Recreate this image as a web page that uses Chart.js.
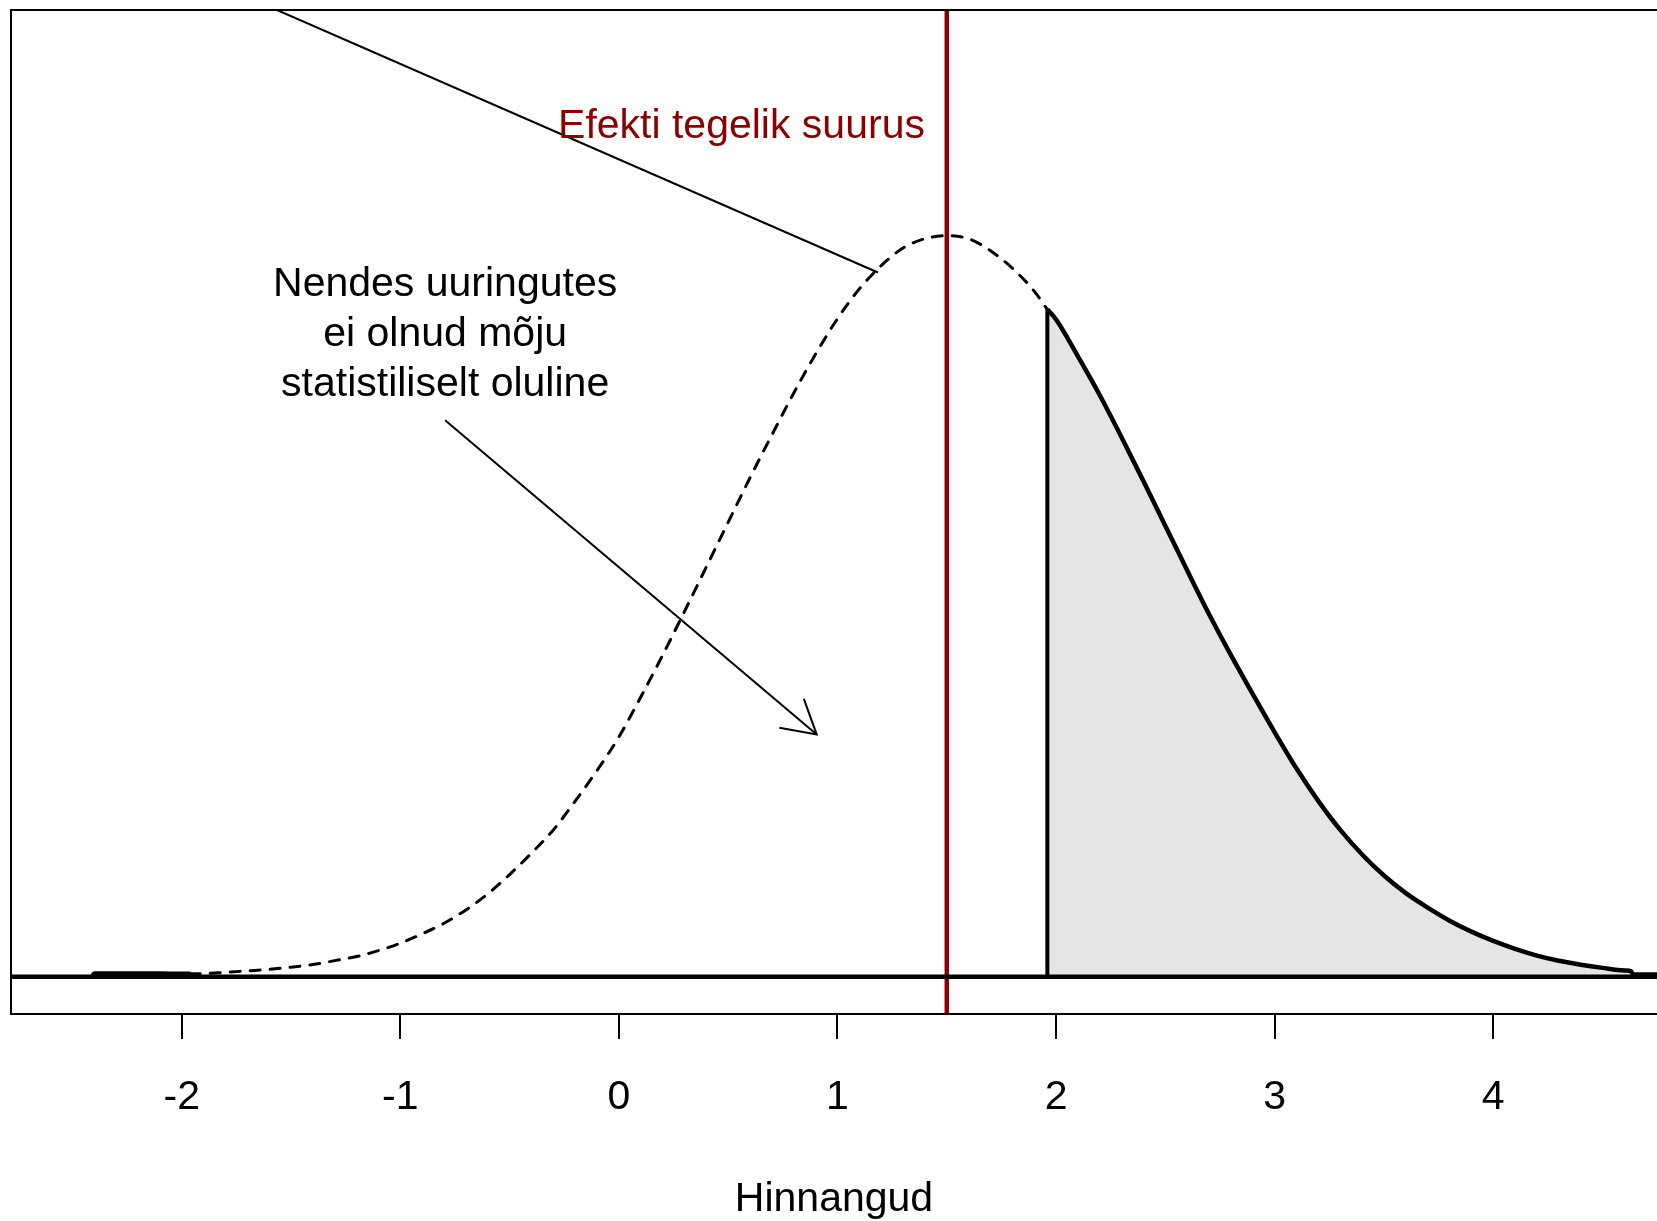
<!DOCTYPE html>
<html>
<head>
<meta charset="utf-8">
<script src="https://cdn.jsdelivr.net/npm/chart.js@4.4.1/dist/chart.umd.min.js"></script>
<style>
  body { margin: 0; background: #fff; }
  #wrap { width: 1657px; height: 1221px; }
</style>
</head>
<body>
<div id="wrap"><canvas id="grafik" width="1657" height="1221"></canvas></div>
<script>
// simuleeritud hinnangute tihedus (loetud pildilt)
const estX = [-2.41, -2.4, -2.3, -2.2, -2.1, -2.0, -1.96, -1.9, -1.8, -1.7, -1.6, -1.5, -1.4, -1.3, -1.2, -1.1,
  -1.0, -0.9, -0.8, -0.7, -0.6, -0.5, -0.4, -0.3, -0.2, -0.1, 0.0, 0.1, 0.2, 0.3, 0.4, 0.5, 0.6, 0.7, 0.8, 0.9,
  1.0, 1.1, 1.2, 1.3, 1.4, 1.5, 1.6, 1.7, 1.8, 1.9, 1.96, 2.0, 2.1, 2.2, 2.3, 2.4, 2.5, 2.6, 2.7, 2.8, 2.9,
  3.0, 3.1, 3.2, 3.3, 3.4, 3.5, 3.6, 3.7, 3.8, 3.9, 4.0, 4.1, 4.2, 4.3, 4.4, 4.5, 4.6, 4.63, 4.64, 4.75];
const density = [0, 0.0018, 0.0018, 0.0018, 0.0018, 0.0016, 0.0016, 0.0017, 0.0024, 0.0032, 0.0040, 0.0052, 0.0066, 0.0087, 0.0109, 0.0141,
  0.0181, 0.0231, 0.0288, 0.0360, 0.0446, 0.0550, 0.0665, 0.0790, 0.0945, 0.1110, 0.1290, 0.1505, 0.1730, 0.1965, 0.2205, 0.2445, 0.2685, 0.2915, 0.3140, 0.3350,
  0.3540, 0.3700, 0.3825, 0.3920, 0.3970, 0.3986, 0.3970, 0.3905, 0.3811, 0.3688, 0.3590, 0.3535, 0.3337, 0.3128, 0.2901, 0.2665, 0.2425, 0.2185, 0.1950, 0.1730, 0.1520,
  0.1315, 0.1120, 0.0945, 0.0790, 0.0658, 0.0545, 0.0450, 0.0372, 0.0302, 0.0243, 0.0193, 0.0150, 0.0114, 0.0086, 0.0065, 0.0048, 0.0034, 0.0030, 0.0012, 0.0012];

const threshold = 1.96;     // olulisuse piir
const trueEffect = 1.5;     // efekti tegelik suurus
const xRange = [-2.781, 4.749];
const yRange = [-0.02, 0.52];
const xTickValues = [-2, -1, 0, 1, 2, 3, 4];
const xTitle = 'Hinnangud';
const effectLabel = 'Efekti tegelik suurus';
const noteLines = ['Nendes uuringutes', 'ei olnud mõju', 'statistiliselt oluline'];
const notePos = [-0.795, 0.3662];
const effectLabelPos = [1.40, 0.4514];
const arrowFrom = [-0.795, 0.2993];
const arrowTo = [0.905, 0.1303];
const pointerFrom = [-1.564, 0.52];
const pointerTo = [1.185, 0.3788];

const FONT = "'Liberation Sans', Arial, sans-serif";

const allPts = estX.map((x, i) => ({x: x, y: density[i]}));
const rightTail = allPts.filter(p => p.x >= threshold);
const leftTail = allPts.filter(p => p.x <= -threshold);
const dAt = v => density[estX.indexOf(v)];
const rightEdge = [{x: threshold, y: 0}, {x: threshold, y: dAt(threshold)}];
const leftEdge = [{x: -threshold, y: 0}, {x: -threshold, y: dAt(-threshold)}];

// raam ümber joonise
const raam = {
  id: 'raam',
  afterDraw(chart) {
    const a = chart.chartArea, c = chart.ctx;
    c.save();
    c.strokeStyle = '#000';
    c.lineWidth = 2;
    c.strokeRect(a.left, a.top, a.right - a.left + 20, a.bottom - a.top);
    c.restore();
  }
};

// tekstid ja nool
const markused = {
  id: 'markused',
  afterDatasetsDraw(chart) {
    const xs = chart.scales.x, ys = chart.scales.y, c = chart.ctx;
    c.save();
    // nooleots
    const x1 = xs.getPixelForValue(arrowFrom[0]), y1 = ys.getPixelForValue(arrowFrom[1]);
    const x2 = xs.getPixelForValue(arrowTo[0]), y2 = ys.getPixelForValue(arrowTo[1]);
    const ang = Math.atan2(y2 - y1, x2 - x1);
    const len = 38, spread = Math.PI / 6;
    c.strokeStyle = '#000';
    c.lineWidth = 2;
    c.beginPath();
    c.moveTo(x2 - len * Math.cos(ang - spread), y2 - len * Math.sin(ang - spread));
    c.lineTo(x2, y2);
    c.lineTo(x2 - len * Math.cos(ang + spread), y2 - len * Math.sin(ang + spread));
    c.stroke();

    c.fillStyle = '#8B0000';
    c.font = '41px ' + FONT;
    c.textAlign = 'right';
    c.textBaseline = 'alphabetic';
    c.fillText(effectLabel, xs.getPixelForValue(effectLabelPos[0]), ys.getPixelForValue(effectLabelPos[1]));

    c.fillStyle = '#000';
    c.font = '41px ' + FONT;
    c.textAlign = 'center';
    const nx = xs.getPixelForValue(notePos[0]);
    const ny = ys.getPixelForValue(notePos[1]);
    noteLines.forEach((t, i) => c.fillText(t, nx, ny + i * 50));
    c.restore();
  }
};

const solid = { borderColor: '#000', borderWidth: 4.5, borderJoinStyle: 'round', cubicInterpolationMode: 'monotone' };

const ctx = document.getElementById('grafik').getContext('2d');
const graafik = new Chart(ctx, {
  type: 'line',
  data: {
    datasets: [
      { data: [{x: pointerFrom[0], y: pointerFrom[1]}, {x: pointerTo[0], y: pointerTo[1]}],
        borderColor: '#000', borderWidth: 2 },
      { data: [{x: arrowFrom[0], y: arrowFrom[1]}, {x: arrowTo[0], y: arrowTo[1]}],
        borderColor: '#000', borderWidth: 2 },
      { data: [{x: xRange[0], y: 0}, {x: xRange[1], y: 0}],
        borderColor: '#000', borderWidth: 4.5 },
      Object.assign({ data: rightEdge }, solid, { borderWidth: 4 }),
      Object.assign({ data: leftEdge }, solid, { borderWidth: 4 }),
      Object.assign({ data: rightTail, fill: 'origin', backgroundColor: '#E5E5E5' }, solid),
      Object.assign({ data: leftTail, fill: 'origin', backgroundColor: '#E5E5E5' }, solid),
      { data: allPts, borderColor: '#000', borderWidth: 3, borderDash: [10, 10], borderCapStyle: 'round',
        cubicInterpolationMode: 'monotone' },
      { data: [{x: trueEffect, y: yRange[0]}, {x: trueEffect, y: yRange[1]}],
        borderColor: '#8B0000', borderWidth: 4.5 }
    ]
  },
  options: {
    responsive: false,
    animation: false,
    events: [],
    elements: { point: { radius: 0 }, line: { tension: 0 } },
    layout: { padding: { left: 11, top: 10, right: 0, bottom: 0 } },
    plugins: { legend: { display: false }, tooltip: { enabled: false } },
    scales: {
      x: {
        type: 'linear',
        min: xRange[0],
        max: xRange[1],
        afterBuildTicks: s => { s.ticks = xTickValues.map(v => ({value: v})); },
        afterFit: s => { s.height = 207; },
        border: { display: false },
        grid: { drawOnChartArea: false, drawTicks: true, tickLength: 25, color: '#000', lineWidth: 2 },
        ticks: { color: '#000', font: { family: FONT, size: 41 }, padding: 34, maxRotation: 0, autoSkip: false,
                 callback: v => String(v) },
        title: { display: true, text: xTitle, color: '#000', font: { family: FONT, size: 41 },
                 padding: { top: 0, bottom: -3 } }
      },
      y: {
        type: 'linear',
        display: false,
        min: yRange[0],
        max: yRange[1]
      }
    }
  },
  plugins: [raam, markused]
});
</script>
</body>
</html>
